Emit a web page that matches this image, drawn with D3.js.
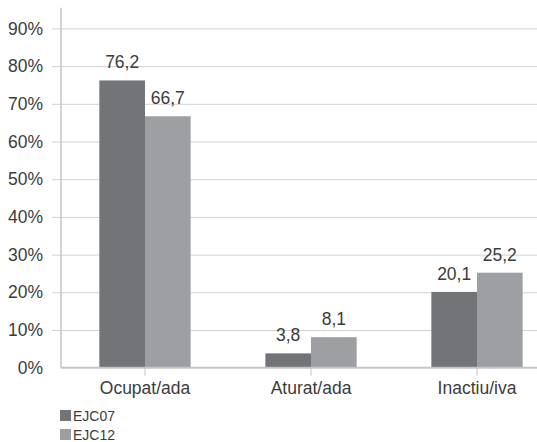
<!DOCTYPE html>
<html>
<head>
<meta charset="utf-8">
<script src="https://cdn.jsdelivr.net/npm/d3@7"></script>
<style>
  html, body { margin: 0; padding: 0; background: #fff; }
  svg { display: block; }
</style>
</head>
<body>
<div id="chart"></div>
<script>
// dades
const categories = ["Ocupat/ada", "Aturat/ada", "Inactiu/iva"];
const seriesNames = ["EJC07", "EJC12"];
const ejc07 = [76.2, 3.8, 20.1];
const ejc12 = [66.7, 8.1, 25.2];
const yTicks = [0, 10, 20, 30, 40, 50, 60, 70, 80, 90];

const width = 537, height = 442;
const colors = { EJC07: "#737478", EJC12: "#9e9fa3", grid: "#d2d2d2", axis: "#c4c4c4", text: "#3c3c3c" };
const font = "'Liberation Sans', Arial, Helvetica, sans-serif";

const svg = d3.select("#chart").append("svg")
    .attr("width", width).attr("height", height)
    .style("font-family", font);

// escales (el gràfic original està tallat a la dreta)
const x = d3.scaleBand().domain(categories).range([62, 560]).paddingInner(0.45).paddingOuter(0.225);
const xs = d3.scaleBand().domain(seriesNames).range([0, x.bandwidth()]);
const y = d3.scaleLinear().domain([0, 95.5]).range([367.7, 7.7]);

// graella + eix Y
const gy = svg.append("g").attr("transform", `translate(61,0)`)
    .call(d3.axisLeft(y).tickValues(yTicks).tickSize(-(width - 61))
        .tickFormat(d => d + "%"));
gy.select(".domain").remove();
gy.selectAll(".tick line")
    .attr("x1", -9)
    .attr("stroke", colors.grid);
gy.selectAll(".tick text")
    .attr("x", -18)
    .style("font-size", "17.5px").style("font-family", font).attr("fill", colors.text);
gy.selectAll(".tick").filter(d => d === 0).select("line").remove();

svg.append("line")
    .attr("x1", 61).attr("x2", 61)
    .attr("y1", y(95.5)).attr("y2", y(0))
    .attr("stroke", colors.axis).attr("stroke-width", 1.5);

// barres
const rows = categories.map((c, i) => ({ cat: c, vals: [
    { s: "EJC07", v: ejc07[i] }, { s: "EJC12", v: ejc12[i] }] }));

const groups = svg.selectAll(".grp").data(rows).join("g")
    .attr("transform", d => `translate(${x(d.cat)},0)`);

groups.selectAll("rect").data(d => d.vals).join("rect")
    .attr("x", d => xs(d.s))
    .attr("width", xs.bandwidth())
    .attr("y", d => y(d.v))
    .attr("height", d => y(0) - y(d.v))
    .attr("fill", d => colors[d.s]);

groups.selectAll("text").data(d => d.vals).join("text")
    .attr("x", d => xs(d.s) + xs.bandwidth() / 2)
    .attr("y", d => y(d.v) - 12)
    .attr("text-anchor", "middle")
    .style("font-size", "17.5px")
    .attr("fill", colors.text)
    .text(d => d3.format(".1f")(d.v).replace(".", ","));

// eix X
const gx = svg.append("g").attr("transform", `translate(0,${y(0)})`)
    .call(d3.axisBottom(x).tickSize(8).tickSizeOuter(0).tickPadding(6));
gx.select(".domain").attr("d", `M61,0H${width}`).attr("stroke", colors.axis).attr("stroke-width", 2);
gx.selectAll(".tick line").attr("stroke", colors.axis);
gx.selectAll(".tick text")
    .style("font-size", "17.5px").style("font-family", font).attr("fill", colors.text);

// llegenda
const leg = svg.append("g").attr("transform", "translate(60,410)");
const li = leg.selectAll("g").data(seriesNames).join("g")
    .attr("transform", (d, i) => `translate(0,${i * 19})`);
li.append("rect").attr("width", 11).attr("height", 11).attr("fill", d => colors[d]);
li.append("text").attr("x", 13).attr("y", 10.5)
    .style("font-size", "14px").attr("fill", colors.text).text(d => d);
</script>
</body>
</html>
